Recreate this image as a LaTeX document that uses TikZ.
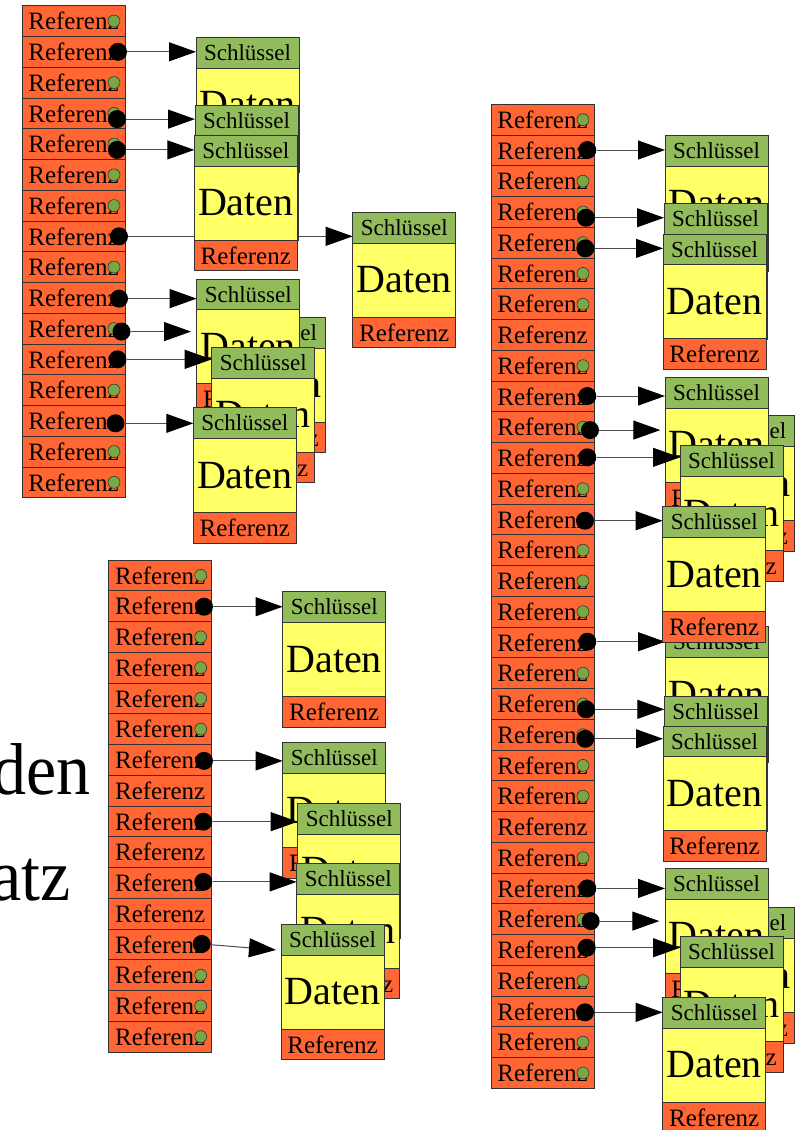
\documentclass[tikz,border=0pt]{standalone}
\usepackage{fontspec}
\setmainfont{Liberation Serif}
\usetikzlibrary{arrows.meta,calc}

\definecolor{refOrange}{HTML}{FF6633}
\definecolor{keyGreen}{HTML}{92BC5C}
\definecolor{datYellow}{HTML}{FFFF66}
\definecolor{dotGreen}{HTML}{77A844}
\definecolor{edge}{HTML}{333333}

\tikzset{
  box/.style={draw=edge, line width=0.8pt, inner sep=0pt, outer sep=0pt,
              minimum width=103pt, text=black},
  cell/.style={box, fill=refOrange, minimum height=30.75pt, font=\fontsize{25}{25}\selectfont},
  keybox/.style={box, fill=keyGreen, minimum height=30.7pt, font=\fontsize{23}{23}\selectfont},
  datbox/.style={box, fill=datYellow, minimum height=74pt, font=\fontsize{40}{40}\selectfont},
  refbox/.style={box, fill=refOrange, minimum height=30.7pt, font=\fontsize{25}{25}\selectfont},
  gdot/.style={circle, draw=edge, line width=0.6pt, fill=dotGreen, minimum size=12pt, inner sep=0pt},
  bdot/.style={circle, fill=black, minimum size=18pt, inner sep=0pt},
  link/.style={draw=black!70, line width=1pt, -{Triangle[length=27pt,width=19pt,color=black]}},
  bigword/.style={anchor=base east, inner sep=0pt, font=\fontsize{68}{68}\selectfont},
}

% a data record: key, data and reference, stacked from its top left corner
\newcommand\datarec[3]{%
  \node[keybox, anchor=north west] (#1s) at (#2,#3) {Schlüssel};
  \node[datbox, anchor=north] (#1d) at (#1s.south) {Daten};
  \node[refbox, anchor=north] (#1r) at (#1d.south) {Referenz};
}
% a column of reference cells: name, left, top, number of rows
\newcommand\reftable[4]{%
  \foreach \i in {1,...,#4}
    \node[cell] (#1-\i) at ({#2+51.5},{#3+30.75*(\i-0.5)}) {Referenz};
}
\newcommand\greendots[2]{%
  \foreach \i in {#2}
    \node[gdot] (#1-\i-g) at ($(#1-\i.west)+(92,0)$) {};
}
\newcommand\blackdot[4]{%
  \node[bdot] (#1-#2-b) at ($(#1-#2.west)+(#3,#4)$) {};
}

\begin{document}
\begin{tikzpicture}[x=1pt,y=-1pt]
\useasboundingbox (0,0) rectangle (796,1130);
\clip (0,0) rectangle (796,1130);

% partly visible words at the left edge
\node[bigword] (wordA) at (90.5,794) {\scalebox{1}[1.08]{den}};
\node[bigword] (wordB) at (71,900) {\scalebox{1}[1.08]{atz}};

% ---------- table A ----------
\reftable{A}{22}{5.7}{16}
\greendots{A}{1,3,4,5,6,7,9,11,13,15,16}
\blackdot{A}{2}{96}{0}
\blackdot{A}{4}{95}{5.8}
\blackdot{A}{5}{95}{5.8}
\blackdot{A}{8}{97}{0}
\blackdot{A}{10}{97}{0.8}
\blackdot{A}{11}{99.5}{3}
\blackdot{A}{12}{95.5}{0}
\blackdot{A}{14}{93.5}{2.5}

\datarec{RA1}{196}{37.3}
\datarec{RA4}{352.7}{212.3}
\draw[link] (A-8-b) -- (A-8-b -| RA4s.west);
\datarec{RA2}{195}{105.3}
\datarec{RA3}{194.3}{135.3}
\draw[link] (A-2-b) -- (A-2-b -| RA1s.west);
\draw[link] (A-4-b) -- (A-4-b -| RA2s.west);
\draw[link] (A-5-b) -- (A-5-b -| RA3s.west);

\datarec{RA6}{222}{317.3}
\datarec{RA5}{196.7}{279}
\coordinate (RA7tip) at (211.7,358);
\draw[link] (A-12-b) -- (A-12-b -| RA7tip);
\datarec{RA7}{211.7}{347.3}
\datarec{RA8}{193.3}{407.7}
\coordinate (RA6tip) at ($(RA6s.west)+(-31,0)$);
\draw[link] (A-10-b) -- (A-10-b -| RA5s.west);
\draw[link] (A-11-b) -- (A-11-b -| RA6tip);
\draw[link] (A-14-b) -- (A-14-b -| RA8s.west);

% ---------- table B ----------
\reftable{B}{108.7}{560}{16}
\greendots{B}{1,3,4,5,6,14,15,16}
\blackdot{B}{2}{95.3}{0.6}
\blackdot{B}{7}{95.3}{1}
\blackdot{B}{9}{94.6}{0.3}
\blackdot{B}{11}{94.6}{-1}
\blackdot{B}{13}{93}{-0.4}

\datarec{RB1}{282.7}{591.7}
\draw[link] (B-2-b) -- (B-2-b -| RB1s.west);
\datarec{RB2}{282.7}{742.7}
\draw[link] (B-7-b) -- (B-7-b -| RB2s.west);
\coordinate (RB3tip) at (297.7,822);
\draw[link] (B-9-b) -- (B-9-b -| RB3tip);
\datarec{RB3}{297.7}{803.3}
\datarec{RB4}{296.7}{863.3}
\draw[link] (B-11-b) -- (B-11-b -| RB4s.west);
\datarec{RB5}{281}{924.3}
\coordinate (RB5tip) at ($(RB5s.west)+(-5,10.3)$);
\draw[link] (B-13-b) -- (RB5tip);

% ---------- table C ----------
\reftable{C}{491}{104.3}{32}
\greendots{C}{1,3,4,5,6,7,9,11,13,15,16,17,19,20,21,22,23,25,27,29,31,32}
\blackdot{C}{2}{96.3}{-0.4}
\blackdot{C}{4}{95}{5.8}
\blackdot{C}{5}{94.3}{5.7}
\blackdot{C}{10}{96.3}{-0.4}
\blackdot{C}{11}{99}{2.9}
\blackdot{C}{12}{96.3}{-0.6}
\blackdot{C}{14}{94}{1.3}
\blackdot{C}{18}{96.3}{-0.7}
\blackdot{C}{20}{95}{5.4}
\blackdot{C}{21}{94.3}{4.1}
\blackdot{C}{26}{96.3}{0}
\blackdot{C}{27}{99.7}{1.9}
\blackdot{C}{28}{95.7}{-2.2}
\blackdot{C}{30}{94}{0.9}

% lower half of the right column
\datarec{RC9}{665}{626.7}
\datarec{RC10}{664.3}{696}
\datarec{RC11}{663}{726}
\draw[link] (C-18-b) -- (C-18-b -| RC9s.west);
\draw[link] (C-20-b) -- (C-20-b -| RC10s.west);
\draw[link] (C-21-b) -- (C-21-b -| RC11s.west);
\datarec{RC13}{691.3}{907.7}
\datarec{RC12}{665}{868.3}
\coordinate (RC14tip) at (680,948);
\draw[link] (C-28-b) -- (C-28-b -| RC14tip);
\datarec{RC14}{680}{936.7}
\datarec{RC15}{662.7}{997.3}
\coordinate (RC13tip) at ($(RC13s.west)+(-32,0)$);
\draw[link] (C-26-b) -- (C-26-b -| RC12s.west);
\draw[link] (C-27-b) -- (C-27-b -| RC13tip);
\draw[link] (C-30-b) -- (C-30-b -| RC15s.west);

% upper half of the right column
\datarec{RC1}{665}{135.7}
\datarec{RC2}{664}{203.7}
\datarec{RC3}{663}{234}
\draw[link] (C-2-b) -- (C-2-b -| RC1s.west);
\draw[link] (C-4-b) -- (C-4-b -| RC2s.west);
\draw[link] (C-5-b) -- (C-5-b -| RC3s.west);
\datarec{RC6}{691.3}{415.7}
\datarec{RC5}{665}{377.3}
\coordinate (RC7tip) at (680,457);
\draw[link] (C-12-b) -- (C-12-b -| RC7tip);
\datarec{RC7}{680}{445.7}
\datarec{RC8}{662.7}{506.7}
\coordinate (RC6tip) at ($(RC6s.west)+(-31,0)$);
\draw[link] (C-10-b) -- (C-10-b -| RC5s.west);
\draw[link] (C-11-b) -- (C-11-b -| RC6tip);
\draw[link] (C-14-b) -- (C-14-b -| RC8s.west);
\end{tikzpicture}
\end{document}
